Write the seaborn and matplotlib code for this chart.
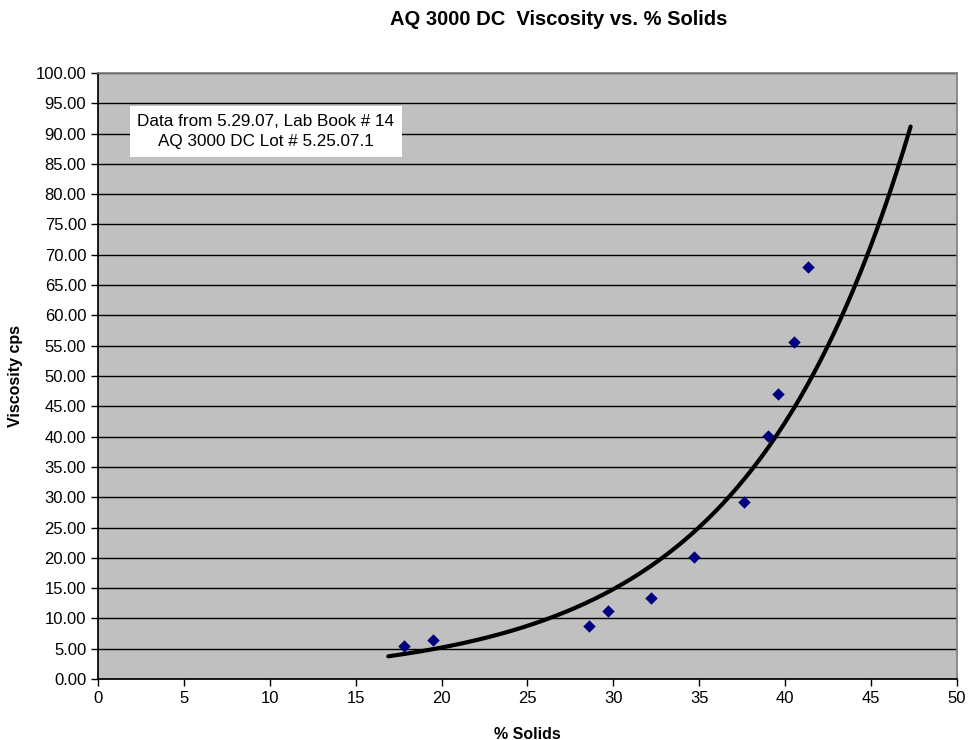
import numpy as np
import pandas as pd
import matplotlib
matplotlib.use('Agg')
import matplotlib.pyplot as plt
import seaborn as sns

# ── Data ─────────────────────────────────────────────────────────────
solids = [17.8, 19.5, 28.6, 29.7, 32.2, 34.7, 37.6, 39.0, 39.6, 40.5, 41.3]
viscosity = [5.4, 6.4, 8.7, 11.2, 13.3, 20.1, 29.2, 40.1, 47.1, 55.6, 68.0]
trend_start, trend_end = 16.9, 47.3

x_ticks = list(range(0, 51, 5))
y_ticks = list(range(0, 101, 5))

sns.set_theme(style="white", rc={
    "axes.facecolor": "#c0c0c0",
    "figure.facecolor": "#ffffff",
    "axes.edgecolor": "#808080",
    "text.color": "black",
    "axes.labelcolor": "black",
    "xtick.color": "black",
    "ytick.color": "black",
    "xtick.direction": "out",
    "ytick.direction": "out",
})
plt.rcParams['font.family'] = ['Liberation Sans', 'DejaVu Sans']

df = pd.DataFrame({"solids": solids, "viscosity": viscosity})

fig = plt.figure(figsize=(9.69, 7.40), dpi=100)
ax = fig.add_axes([0.1011, 0.0824, 0.8865, 0.819])

# exponential trendline (least squares on ln y, like Excel)
b, ln_a = np.polyfit(df["solids"], np.log(df["viscosity"]), 1)
xs = np.linspace(trend_start, trend_end, 200)
ax.plot(xs, np.exp(ln_a) * np.exp(b * xs), color="black", lw=3, zorder=2)

sns.scatterplot(data=df, x="solids", y="viscosity", marker="D", s=40,
                color="#000080", edgecolor="#000080", linewidth=0, ax=ax, zorder=3)

ax.set_xlim(0, 50)
ax.set_ylim(0, 100)
ax.set_xticks(x_ticks)
ax.set_yticks(y_ticks)
ax.set_yticklabels([f"{v:.2f}" for v in y_ticks])
ax.yaxis.grid(True, color="black", lw=1)
ax.set_axisbelow(True)
ax.tick_params(axis="both", length=5, width=1, color="black", labelsize=12,
               left=True, bottom=True)
ax.spines["left"].set_color("black")
ax.spines["bottom"].set_color("black")

ax.set_xlabel("% Solids", fontweight="bold", fontsize=11.5, labelpad=15)
ax.set_ylabel("Viscosity cps", fontweight="bold", fontsize=11.5, labelpad=9)
fig.text(0.577, 0.973, "AQ 3000 DC  Viscosity vs. % Solids", ha="center", va="center",
         fontweight="bold", fontsize=14.5)

ax.text(0.1956, 0.9035, "Data from 5.29.07, Lab Book # 14\nAQ 3000 DC Lot # 5.25.07.1",
        transform=ax.transAxes, ha="center", va="center", fontsize=12.3, linespacing=1.4,
        bbox=dict(boxstyle="square,pad=0.45", facecolor="white", edgecolor="none"),
        zorder=4)

fig.savefig("out.png", dpi=100)
